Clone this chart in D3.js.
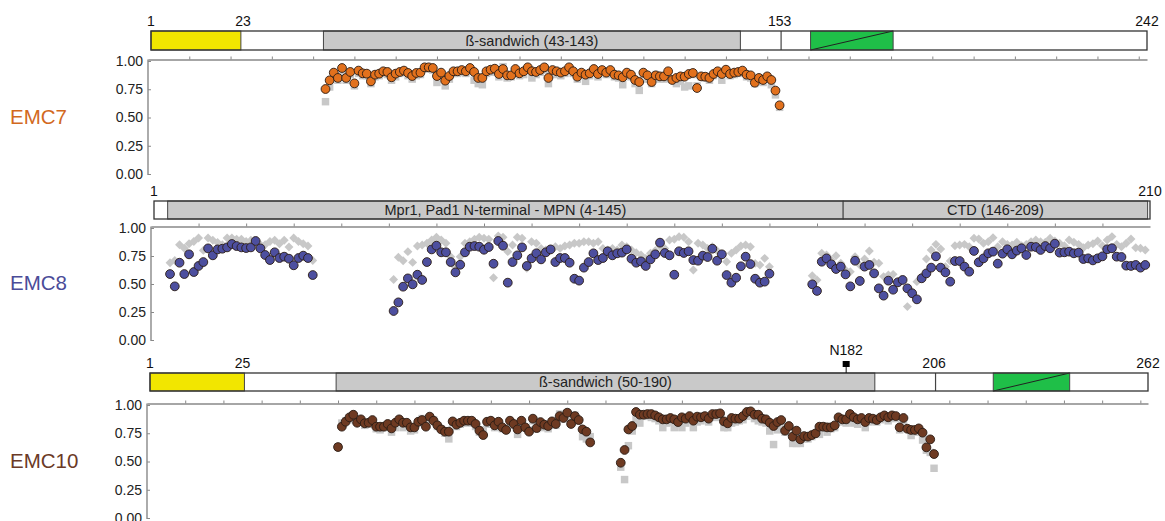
<!DOCTYPE html>
<html>
<head>
<meta charset="utf-8">
<script src="https://cdn.jsdelivr.net/npm/d3@7"></script>
<style>
body { margin: 0; background: #fff; }
text { font-family: "Liberation Sans", Arial, Helvetica, sans-serif; }
</style>
</head>
<body>
<div id="chart"></div>
<script>
// ---- EMC7 (242 aa) ----
var emc7Length = 242;
var emc7Start = 43;
var emc7Dots = [
  0.752,0.829,0.897,0.850,0.938,0.850,0.903,0.802,0.915,0.891,
  0.888,0.820,0.879,0.888,0.909,0.903,0.856,0.888,0.903,0.915,
  0.894,0.867,0.894,0.897,0.944,0.944,0.938,0.867,0.897,0.826,
  0.867,0.909,0.909,0.920,0.909,0.938,0.903,0.850,0.850,0.909,
  0.923,0.932,0.885,0.929,0.873,0.873,0.929,0.891,0.909,0.944,
  0.909,0.903,0.920,0.944,0.850,0.920,0.909,0.897,0.909,0.944,
  0.909,0.861,0.897,0.879,0.891,0.929,0.885,0.920,0.897,0.920,
  0.879,0.873,0.856,0.897,0.879,0.832,0.814,0.897,0.873,0.814,
  0.873,0.864,0.864,0.909,0.832,0.850,0.864,0.861,0.885,0.894,
  0.761,0.864,0.861,0.850,0.885,0.909,0.885,0.923,0.885,0.897,
  0.903,0.915,0.879,0.873,0.808,0.850,0.832,0.864,0.832,0.738,
  0.608];
var emc7Grey = [
  0.64,0.77,0.86,0.83,0.90,0.83,0.88,0.78,0.89,0.87,
  0.87,0.80,0.86,0.87,0.89,0.88,0.83,0.86,0.89,0.90,
  0.87,0.84,0.87,0.88,0.93,0.93,0.92,0.81,0.87,0.78,
  0.84,0.89,0.89,0.90,0.89,0.92,0.83,0.80,0.79,0.89,
  0.90,0.91,0.86,0.95,0.85,0.86,0.91,0.87,0.88,0.92,
  0.85,0.88,0.90,0.92,0.80,0.90,0.88,0.87,0.89,0.93,
  0.89,0.84,0.88,0.82,0.87,0.91,0.86,0.90,0.88,0.90,
  0.86,0.85,0.79,0.88,0.86,0.80,0.74,0.88,0.84,0.80,
  0.88,0.84,0.84,0.88,0.83,0.80,0.82,0.77,0.78,0.88,
  0.78,0.86,0.85,0.83,0.87,0.90,0.83,0.90,0.87,0.88,
  0.89,0.90,0.86,0.85,0.80,0.83,0.81,0.84,0.79,0.70,
  0.59];
var emc7Ticks = [1, 23, 153, 242];
var emc7Lines = [153];

// ---- EMC8 (210 aa), three stretches ----
var emc8Length = 210;
var emc8Starts = [4, 51, 139];
var emc8Dots1 = [
  0.589,0.479,0.690,0.589,0.765,0.607,0.661,0.696,0.818,0.756,
  0.809,0.815,0.827,0.857,0.839,0.827,0.821,0.827,0.884,0.818,
  0.759,0.714,0.783,0.732,0.744,0.726,0.667,0.732,0.753,0.732,
  0.580];
var emc8Grey1 = [
  0.69,0.71,0.85,0.82,0.86,0.88,0.91,0.80,0.91,0.89,
  0.87,0.85,0.91,0.91,0.90,0.90,0.88,0.89,0.87,0.85,
  0.85,0.88,0.89,0.86,0.89,0.83,0.91,0.88,0.86,0.84,
  0.71];
var emc8Dots2 = [
  0.259,0.336,0.476,0.550,0.497,0.583,0.536,0.696,0.809,0.842,
  0.783,0.783,0.696,0.604,0.672,0.783,0.833,0.839,0.833,0.806,
  0.830,0.681,0.884,0.842,0.512,0.696,0.756,0.827,0.661,0.729,
  0.774,0.720,0.783,0.809,0.696,0.732,0.732,0.690,0.547,0.530,
  0.646,0.696,0.774,0.714,0.732,0.792,0.756,0.774,0.780,0.809,
  0.726,0.690,0.702,0.661,0.720,0.765,0.869,0.777,0.756,0.583,
  0.792,0.777,0.792,0.714,0.708,0.753,0.741,0.815,0.708,0.765,
  0.580,0.512,0.556,0.658,0.744,0.678,0.547,0.512,0.521,0.592];
var emc8Grey2 = [
  0.541,0.738,0.708,0.789,0.693,0.839,0.848,0.863,0.893,0.917,
  0.893,0.863,0.744,0.649,0.744,0.863,0.878,0.899,0.917,0.908,
  0.899,0.556,0.928,0.917,0.789,0.848,0.917,0.908,0.640,0.878,
  0.863,0.818,0.803,0.803,0.833,0.818,0.839,0.848,0.863,0.863,
  0.878,0.878,0.863,0.878,0.818,0.803,0.818,0.803,0.848,0.833,
  0.803,0.780,0.759,0.729,0.774,0.797,0.839,0.818,0.893,0.899,
  0.922,0.917,0.878,0.625,0.863,0.848,0.818,0.833,0.797,0.759,
  0.699,0.774,0.803,0.839,0.848,0.833,0.684,0.670,0.729,0.655];
var emc8Dots3 = [
  0.497,0.438,0.699,0.729,0.676,0.634,0.655,0.586,0.479,0.708,
  0.527,0.655,0.670,0.595,0.461,0.396,0.530,0.449,0.515,0.536,
  0.461,0.417,0.363,0.551,0.595,0.646,0.747,0.646,0.604,0.521,
  0.705,0.705,0.655,0.610,0.795,0.694,0.729,0.774,0.789,0.682,
  0.771,0.810,0.765,0.798,0.819,0.759,0.833,0.830,0.804,0.839,
  0.819,0.860,0.780,0.783,0.789,0.774,0.780,0.723,0.729,0.711,
  0.729,0.747,0.810,0.819,0.744,0.741,0.664,0.661,0.670,0.646,
  0.670];
var emc8Grey3 = [
  0.574,0.536,0.774,0.759,0.714,0.753,0.685,0.625,0.610,0.744,
  0.670,0.723,0.795,0.694,0.685,0.566,0.580,0.586,0.521,0.536,
  0.298,0.432,0.521,0.566,0.723,0.804,0.854,0.813,0.655,0.705,
  0.842,0.848,0.854,0.833,0.908,0.902,0.863,0.878,0.914,0.833,
  0.878,0.854,0.848,0.872,0.842,0.854,0.878,0.893,0.878,0.872,
  0.908,0.884,0.863,0.842,0.893,0.872,0.854,0.824,0.848,0.860,
  0.884,0.842,0.893,0.923,0.854,0.833,0.863,0.902,0.824,0.819,
  0.804];
var emc8Ticks = [1, 210];

// ---- EMC10 (262 aa), two stretches ----
var emc10Length = 262;
var emc10Starts = [50, 124];
var emc10Dots1 = [
  0.628,0.808,0.852,0.891,0.914,0.843,0.873,0.838,0.843,0.867,
  0.808,0.808,0.808,0.832,0.793,0.843,0.873,0.843,0.843,0.802,
  0.802,0.852,0.867,0.808,0.897,0.861,0.820,0.784,0.764,0.764,
  0.855,0.826,0.843,0.861,0.861,0.861,0.832,0.773,0.734,0.852,
  0.861,0.820,0.852,0.802,0.779,0.861,0.832,0.784,0.861,0.802,
  0.764,0.879,0.796,0.849,0.826,0.814,0.855,0.832,0.902,0.885,
  0.932,0.832,0.902,0.867,0.784,0.764,0.669];
var emc10Grey1 = [
  0.63,0.84,0.86,0.87,0.89,0.85,0.86,0.82,0.83,0.84,
  0.79,0.78,0.80,0.81,0.76,0.80,0.85,0.80,0.82,0.77,
  0.78,0.84,0.88,0.83,0.89,0.87,0.81,0.79,0.75,0.70,
  0.84,0.81,0.83,0.84,0.85,0.84,0.81,0.76,0.78,0.84,
  0.83,0.80,0.84,0.79,0.78,0.84,0.82,0.74,0.84,0.80,
  0.78,0.86,0.79,0.83,0.80,0.79,0.84,0.82,0.92,0.88,
  0.93,0.86,0.91,0.86,0.72,0.70,0.72];
var emc10Dots2 = [
  0.489,0.602,0.784,0.814,0.938,0.914,0.914,0.920,0.920,0.908,
  0.891,0.873,0.873,0.885,0.873,0.849,0.891,0.879,0.902,0.861,
  0.897,0.891,0.902,0.879,0.920,0.920,0.926,0.855,0.838,0.885,
  0.879,0.879,0.902,0.938,0.944,0.914,0.914,0.879,0.873,0.843,
  0.814,0.849,0.867,0.773,0.814,0.720,0.773,0.696,0.725,0.720,
  0.734,0.749,0.808,0.808,0.802,0.802,0.820,0.891,0.873,0.873,
  0.920,0.891,0.873,0.885,0.849,0.885,0.879,0.867,0.891,0.908,
  0.891,0.908,0.902,0.802,0.885,0.790,0.779,0.779,0.793,0.755,
  0.625,0.696,0.566];
var emc10Grey2 = [
  0.45,0.34,0.64,0.77,0.88,0.84,0.90,0.90,0.89,0.88,
  0.86,0.80,0.84,0.85,0.80,0.83,0.80,0.84,0.87,0.80,
  0.85,0.86,0.88,0.85,0.90,0.89,0.90,0.80,0.80,0.84,
  0.85,0.86,0.87,0.90,0.92,0.88,0.86,0.85,0.84,0.77,
  0.65,0.78,0.84,0.76,0.80,0.66,0.66,0.66,0.70,0.70,
  0.72,0.75,0.74,0.80,0.76,0.79,0.80,0.86,0.85,0.84,
  0.86,0.84,0.83,0.86,0.80,0.85,0.86,0.85,0.87,0.88,
  0.86,0.89,0.88,0.78,0.86,0.79,0.73,0.76,0.77,0.69,
  0.60,0.58,0.44];
var emc10Ticks = [1, 25, 206, 262];
var emc10Lines = [206];
var emc10Glyco = [182];

var yTicks = [0, 0.25, 0.5, 0.75, 1];

// stretches -> point lists
function toPoints(start, vals) {
  return vals.map(function (v, i) { return { pos: start + i, value: v }; });
}

var panels = [
  {
    name: "EMC7", nameColor: "#d2691e", fill: "#e2711d", greyShape: "square",
    length: emc7Length, x0: 148, x1: 1147, yTop: 61, yBottom: 174, barTop: 31, barH: 19,
    dots: toPoints(emc7Start, emc7Dots),
    grey: toPoints(emc7Start, emc7Grey),
    regions: [
      { s: 1, e: 22, fill: "#f2e600" },
      { s: 43, e: 143, fill: "#c9c9c9", label: "ß-sandwich (43-143)" },
      { s: 161, e: 180, fill: "#1fbf48", tm: true }
    ],
    lines: emc7Lines, ticks: emc7Ticks, glyco: []
  },
  {
    name: "EMC8", nameColor: "#4b4c98", fill: "#4d4f9f", greyShape: "diamond",
    length: emc8Length, x0: 151, x1: 1150, yTop: 228, yBottom: 340, barTop: 201, barH: 18,
    dots: toPoints(emc8Starts[0], emc8Dots1).concat(toPoints(emc8Starts[1], emc8Dots2), toPoints(emc8Starts[2], emc8Dots3)),
    grey: toPoints(emc8Starts[0], emc8Grey1).concat(toPoints(emc8Starts[1], emc8Grey2), toPoints(emc8Starts[2], emc8Grey3)),
    regions: [
      { s: 4, e: 145, fill: "#c9c9c9", label: "Mpr1, Pad1 N-terminal - MPN (4-145)" },
      { s: 146, e: 209, fill: "#c9c9c9", label: "CTD (146-209)" }
    ],
    lines: [], ticks: emc8Ticks, glyco: []
  },
  {
    name: "EMC10", nameColor: "#6b3a26", fill: "#6e3a22", greyShape: "square",
    length: emc10Length, x0: 147, x1: 1148, yTop: 405, yBottom: 518, barTop: 373, barH: 18,
    dots: toPoints(emc10Starts[0], emc10Dots1).concat(toPoints(emc10Starts[1], emc10Dots2)),
    grey: toPoints(emc10Starts[0], emc10Grey1).concat(toPoints(emc10Starts[1], emc10Grey2)),
    regions: [
      { s: 1, e: 25, fill: "#f2e600" },
      { s: 50, e: 190, fill: "#c9c9c9", label: "ß-sandwich (50-190)" },
      { s: 222, e: 241, fill: "#1fbf48", tm: true }
    ],
    lines: emc10Lines, ticks: emc10Ticks, glyco: emc10Glyco
  }
];

var svg = d3.select("#chart")
  .append("svg")
  .attr("width", 1165)
  .attr("height", 521);

panels.forEach(drawPanel);

function drawPanel(p) {
  var x = d3.scaleLinear().domain([0, p.length]).range([p.x0, p.x1]);
  var y = d3.scaleLinear().domain([0, 1]).range([p.yBottom, p.yTop]);
  var g = svg.append("g");
  var barLeft = p.x0 + 3;

  // domain bar
  var bar = g.append("g");
  bar.append("rect")
    .attr("x", barLeft).attr("y", p.barTop)
    .attr("width", x(p.length) - barLeft).attr("height", p.barH)
    .attr("fill", "#fff");

  p.regions.forEach(function (r) {
    var rx0 = Math.max(barLeft, x(r.s - 0.5)), rx1 = x(r.e + 0.5);
    bar.append("rect")
      .attr("x", rx0).attr("y", p.barTop)
      .attr("width", rx1 - rx0).attr("height", p.barH)
      .attr("fill", r.fill)
      .attr("stroke", "#444").attr("stroke-width", 1);
    if (r.tm) {
      bar.append("line")
        .attr("x1", rx0).attr("y1", p.barTop + p.barH)
        .attr("x2", rx1).attr("y2", p.barTop)
        .attr("stroke", "#222").attr("stroke-width", 1);
    }
    if (r.label) {
      bar.append("text")
        .attr("x", (rx0 + rx1) / 2).attr("y", p.barTop + p.barH / 2 + 5)
        .attr("text-anchor", "middle").attr("font-size", 14.5).attr("fill", "#222")
        .text(r.label);
    }
  });

  p.lines.forEach(function (pos) {
    bar.append("line")
      .attr("x1", x(pos) + 1.5).attr("x2", x(pos) + 1.5)
      .attr("y1", p.barTop).attr("y2", p.barTop + p.barH)
      .attr("stroke", "#444").attr("stroke-width", 1.2);
  });

  bar.append("rect")
    .attr("x", barLeft).attr("y", p.barTop)
    .attr("width", x(p.length) - barLeft).attr("height", p.barH)
    .attr("fill", "none").attr("stroke", "#333").attr("stroke-width", 1.3);

  p.ticks.forEach(function (pos, i) {
    bar.append("text")
      .attr("x", i === 0 ? barLeft : x(pos)).attr("y", p.barTop - 5)
      .attr("text-anchor", "middle").attr("font-size", 14).attr("fill", "#111")
      .text(pos);
  });

  // glycosylation site marker
  p.glyco.forEach(function (pos) {
    var gx = x(pos + 1);
    bar.append("line")
      .attr("x1", gx).attr("x2", gx)
      .attr("y1", p.barTop - 8).attr("y2", p.barTop)
      .attr("stroke", "#111").attr("stroke-width", 1);
    bar.append("rect")
      .attr("x", gx - 3.5).attr("y", p.barTop - 12)
      .attr("width", 7).attr("height", 6).attr("fill", "#000");
    bar.append("text")
      .attr("x", gx).attr("y", p.barTop - 18)
      .attr("text-anchor", "middle").attr("font-size", 14).attr("fill", "#111")
      .text("N" + pos);
  });

  // top axis (residue ticks every 10)
  var topAxis = d3.axisTop(x)
    .tickValues(d3.range(10, p.length, 10))
    .tickSize(3).tickSizeOuter(0).tickFormat("");
  g.append("g")
    .attr("transform", "translate(0," + (p.yTop - 1.5) + ")")
    .call(topAxis)
    .call(function (a) {
      a.select(".domain").attr("stroke", "#888").attr("stroke-width", 1.4);
      a.selectAll(".tick line").attr("stroke", "#888");
    });

  // left axis
  var leftAxis = d3.axisLeft(y)
    .tickValues(yTicks).tickFormat(d3.format(".2f"))
    .tickSizeInner(-3).tickSizeOuter(0).tickPadding(5);
  g.append("g")
    .attr("transform", "translate(" + p.x0 + ",0)")
    .call(leftAxis)
    .call(function (a) {
      a.select(".domain").attr("stroke", "#888").attr("stroke-width", 1.4)
        .attr("d", "M0," + (p.yTop - 1.5) + "V" + (p.yBottom + 1));
      a.selectAll(".tick line").attr("stroke", "#888");
      a.selectAll(".tick text").attr("font-size", 14).attr("fill", "#222")
        .attr("font-family", "Liberation Sans, Arial, sans-serif");
    });

  // grey reference markers
  var greySym = d3.symbol().type(d3.symbolSquare).size(p.greyShape === "diamond" ? 40 : 56);
  g.append("g").selectAll("path")
    .data(p.grey)
    .join("path")
    .attr("d", greySym)
    .attr("transform", function (d) {
      return "translate(" + x(d.pos) + "," + y(d.value) + ")" + (p.greyShape === "diamond" ? " rotate(45)" : "");
    })
    .attr("fill", "#c8c8c8");

  // coloured circles
  g.append("g").selectAll("circle")
    .data(p.dots)
    .join("circle")
    .attr("cx", function (d) { return x(d.pos); })
    .attr("cy", function (d) { return y(d.value); })
    .attr("r", 4.4)
    .attr("fill", p.fill)
    .attr("stroke", "#2a1c14")
    .attr("stroke-width", 0.9);

  // protein name
  svg.append("text")
    .attr("x", 10).attr("y", (p.yTop + p.yBottom) / 2 + 6)
    .attr("font-size", 20.5).attr("fill", p.nameColor)
    .text(p.name);
}
</script>
</body>
</html>
